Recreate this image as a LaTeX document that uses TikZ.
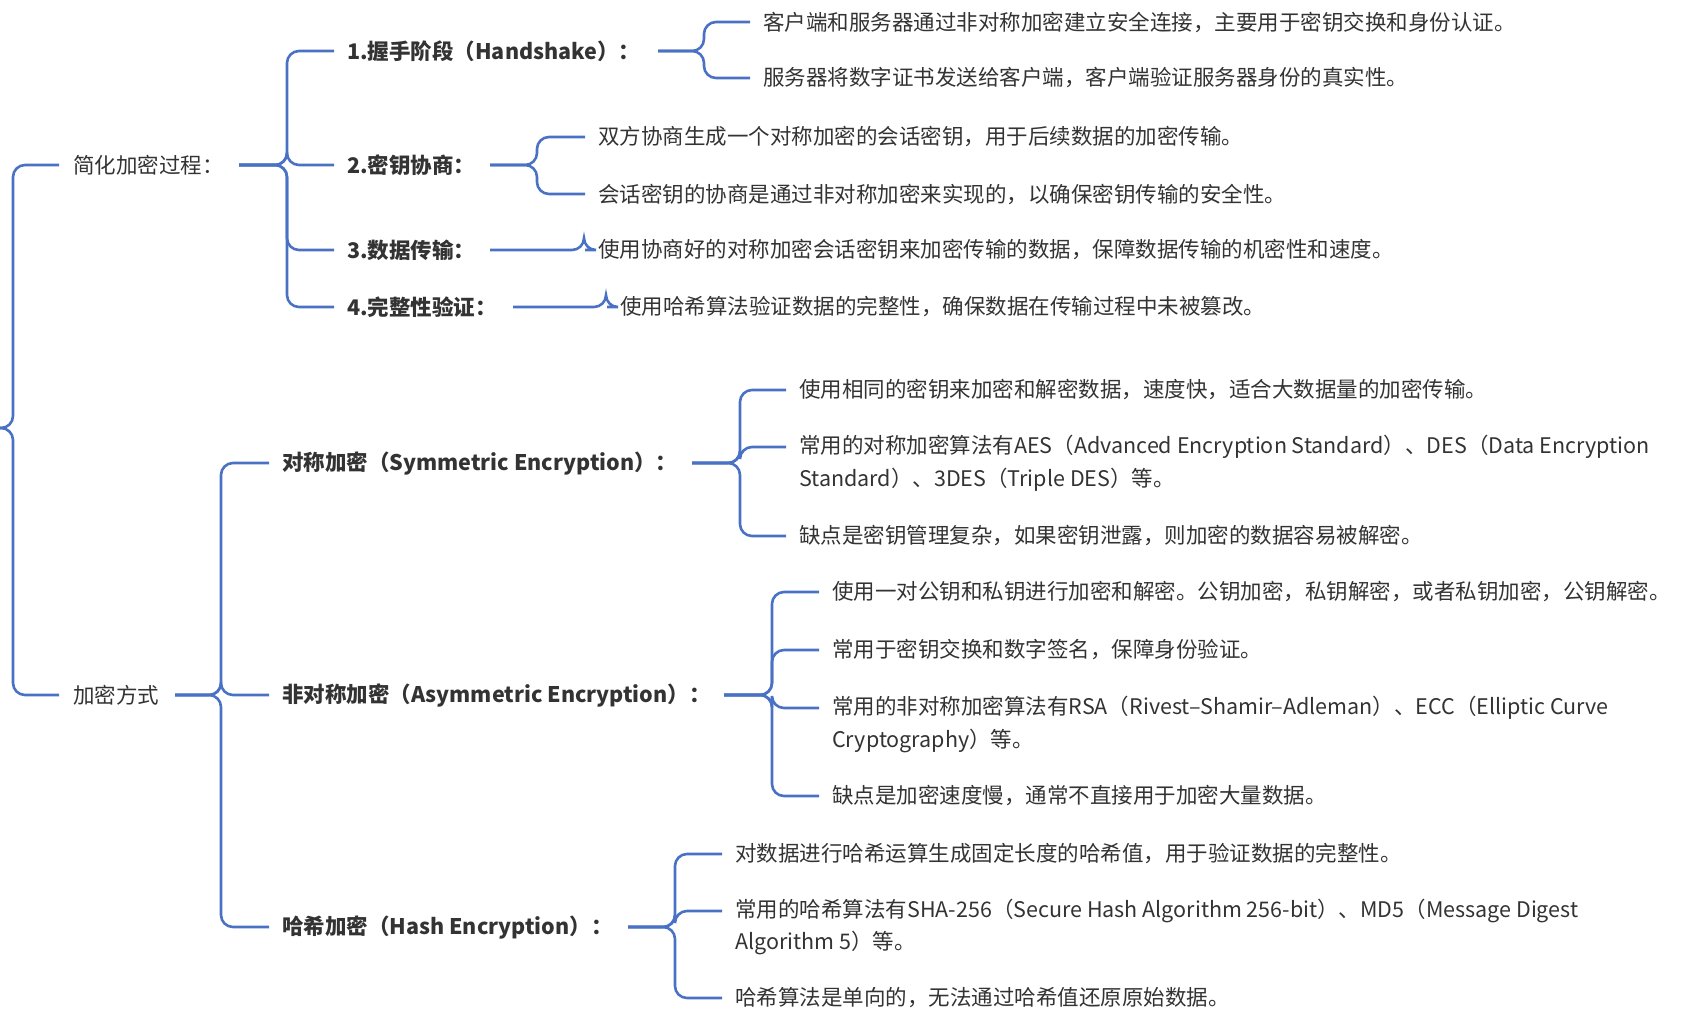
\documentclass[tikz,border=0pt]{standalone}
\usepackage{fontspec}
\setmainfont{Noto Sans CJK SC}
\usetikzlibrary{positioning}
\definecolor{linkblue}{HTML}{4A72C4}
\definecolor{txt}{HTML}{333333}
\tikzset{
  link/.style={draw=linkblue,line width=2.6pt,rounded corners=12pt},
  topic/.style={anchor=west,inner sep=0pt,text=txt,font=\fontsize{21.5}{26}\selectfont},
  sub/.style={topic,font=\fontsize{21.5}{26}\selectfont\bfseries},
  leaf/.style={topic}
}
\begin{document}
\begin{tikzpicture}[x=1pt,y=-1pt]
    \useasboundingbox[fill=white] (0,0) rectangle (1690,1023);
    % main topics
    \node[topic] at (73,165) (simple) {简化加密过程：};
    \node[topic] at (73,695) (modes) {加密方式};
    % steps
    \node[sub] at (347,51) (hand) {1.握手阶段（Handshake）：};
    \node[sub] at (347,165) (keyneg) {2.密钥协商：};
    \node[sub] at (347,250) (trans) {3.数据传输：};
    \node[sub] at (347,307) (integ) {4.完整性验证：};
    \node[leaf] at (763,22) (hand1) {客户端和服务器通过非对称加密建立安全连接，主要用于密钥交换和身份认证。};
    \node[leaf] at (763,78) (hand2) {服务器将数字证书发送给客户端，客户端验证服务器身份的真实性。};
    \node[leaf] at (598,137) (keyneg1) {双方协商生成一个对称加密的会话密钥，用于后续数据的加密传输。};
    \node[leaf] at (598,194) (keyneg2) {会话密钥的协商是通过非对称加密来实现的，以确保密钥传输的安全性。};
    \node[leaf] at (598,250) (trans1) {使用协商好的对称加密会话密钥来加密传输的数据，保障数据传输的机密性和速度。};
    \node[leaf] at (620,307) (integ1) {使用哈希算法验证数据的完整性，确保数据在传输过程中未被篡改。};
    % modes
    \node[sub] at (282,463) (sym) {对称加密（Symmetric Encryption）：};
    \node[sub] at (282,695) (asym) {非对称加密（Asymmetric Encryption）：};
    \node[sub] at (282,927) (hash) {哈希加密（Hash Encryption）：};
    \node[leaf] at (799,390) (sym1) {使用相同的密钥来加密和解密数据，速度快，适合大数据量的加密传输。};
    \node[leaf] at (799,447) (sym2) {常用的对称加密算法有AES（Advanced Encryption Standard）、DES（Data Encryption};
    \node[leaf] at (799,480) (sym2b) {Standard）、3DES（Triple DES）等。};
    \node[leaf] at (799,536) (sym3) {缺点是密钥管理复杂，如果密钥泄露，则加密的数据容易被解密。};
    \node[leaf] at (832,592) (asym1) {使用一对公钥和私钥进行加密和解密。公钥加密，私钥解密，或者私钥加密，公钥解密。};
    \node[leaf] at (832,650) (asym2) {常用于密钥交换和数字签名，保障身份验证。};
    \node[leaf] at (832,708) (asym3) {常用的非对称加密算法有RSA（Rivest–Shamir–Adleman）、ECC（Elliptic Curve};
    \node[leaf] at (832,741) (asym3b) {Cryptography）等。};
    \node[leaf] at (832,796) (asym4) {缺点是加密速度慢，通常不直接用于加密大量数据。};
    \node[leaf] at (735,854) (hash1) {对数据进行哈希运算生成固定长度的哈希值，用于验证数据的完整性。};
    \node[leaf] at (735,911) (hash2) {常用的哈希算法有SHA-256（Secure Hash Algorithm 256-bit）、MD5（Message Digest};
    \node[leaf] at (735,943) (hash2b) {Algorithm 5）等。};
    \node[leaf] at (735,998) (hash3) {哈希算法是单向的，无法通过哈希值还原原始数据。};
    % root
    \coordinate (root) at (0,428);
    \foreach \c in {simple,modes}
        \draw[link] (root) -- (13,428) |- ([xshift=-14pt]\c.west);
    % forks: parent, line start, fork x, children
    \foreach \p/\xs/\xv/\kids in {
        simple/239/287/{hand,keyneg,trans,integ},
        modes/175/221/{sym,asym,hash},
        hand/658/704/{hand1,hand2},
        keyneg/490/537/{keyneg1,keyneg2},
        trans/490/584/{trans1},
        integ/513/606/{integ1},
        sym/692/740/{sym1,sym2,sym3},
        asym/724/772/{asym1,asym2,asym3,asym4},
        hash/628/675/{hash1,hash2,hash3}}
        \foreach \c in \kids
            \draw[link] (\xs,0 |- \p.west) -- (\xv,0 |- \p.west) |- ([xshift=-13pt]\c.west);
\end{tikzpicture}
\end{document}
